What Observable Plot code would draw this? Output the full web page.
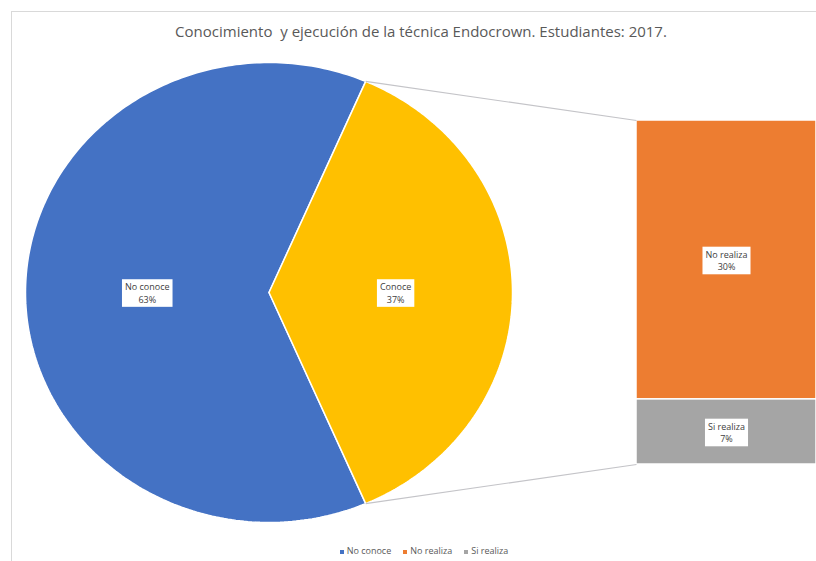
<!DOCTYPE html>
<html>
<head>
<meta charset="utf-8">
<script src="https://cdn.jsdelivr.net/npm/d3@7"></script>
<script src="https://cdn.jsdelivr.net/npm/@observablehq/plot@0.6"></script>
<style>
  html, body { margin: 0; padding: 0; background: #fff; }
  #wrap { position: relative; width: 816px; height: 561px; overflow: hidden; font-family: "Open Sans", "Noto Sans", sans-serif; }
  #frame { position: absolute; left: 11px; top: 11px; width: 820px; height: 560px; border-left: 1px solid #d9d9d9; border-top: 1px solid #d9d9d9; }
  #title { position: absolute; left: 0; top: 21px; width: 842px; text-align: center; font-size: 15px; color: #595959; }
  #chart { position: absolute; left: 0; top: 0; }
  #legend { position: absolute; left: 0; top: 544px; width: 848px; text-align: center; font-size: 9px; color: #595959; white-space: nowrap; }
  #legend span.item { margin: 0 6px; }
  #legend span.sw { display: inline-block; width: 4px; height: 4px; margin-right: 3px; vertical-align: middle; }
</style>
</head>
<body>
<div id="wrap">
  <div id="frame"></div>
  <div id="chart"></div>
  <div id="title"></div>
  <div id="legend"></div>
</div>
<script>
// ---- data ----
const titleText = "Conocimiento  y ejecución de la técnica Endocrown. Estudiantes: 2017.";
const pieCategories = ["No conoce", "Conoce"];
const pieValues = [63, 37];
const barCategories = ["No realiza", "Si realiza"];
const barValues = [30, 7];
const legendLabels = ["No conoce", "No realiza", "Si realiza"];

// ---- styles ----
const pieColors = ["#4472C4", "#FFC000"];
const barColors = ["#ED7D31", "#A5A5A5"];
const legendColors = ["#4472C4", "#ED7D31", "#A5A5A5"];

// ---- layout (pixel geometry of the canvas) ----
const W = 816, H = 561;
const cx = 268.5, cy = 292, rx = 243.5, ry = 230;
const barLeftPx = 636, barRightPx = 816, barTopPx = 120, barBottomPx = 464;

const xDomain = [-cx / rx, (W - cx) / rx];
const yDomain = [(cy - H) / ry, cy / ry];
const barX1 = (barLeftPx - cx) / rx, barX2 = (barRightPx - cx) / rx;
const barH = (barBottomPx - barTopPx) / ry;

// ---- pie geometry ----
const total = d3.sum(pieValues);
const fConoce = pieValues[1] / total;
const a0 = Math.PI * fConoce; // Conoce centered at 3 o'clock
const sliceAngles = [[a0, 2 * Math.PI - a0], [-a0, a0]];
function slicePoints(name, [s, e]) {
  const pts = [{name, x: 0, y: 0}];
  const n = 240;
  for (let i = 0; i <= n; i++) {
    const t = s + (e - s) * i / n;
    pts.push({name, x: Math.cos(t), y: Math.sin(t)});
  }
  pts.push({name, x: 0, y: 0});
  return pts;
}
const slices = pieCategories.map((c, i) => slicePoints(c, sliceAngles[i]));

// ---- bar geometry ----
const barTotal = d3.sum(barValues);
let acc = 0;
const barRows = barCategories.map((c, i) => {
  const top = barH / 2 - acc / barTotal * barH;
  acc += barValues[i];
  const bottom = barH / 2 - acc / barTotal * barH;
  return {name: c, value: barValues[i], y1: bottom, y2: top, color: barColors[i]};
});

// connectors
const links = [
  {x1: Math.cos(a0), y1: Math.sin(a0), x2: barX1, y2: barH / 2},
  {x1: Math.cos(-a0), y1: Math.sin(-a0), x2: barX1, y2: -barH / 2}
];

// labels
const pct = v => Math.round(v / total * 100) + "%";
const labels = [
  ...pieCategories.map((c, i) => {
    const m = (sliceAngles[i][0] + sliceAngles[i][1]) / 2;
    const r = i === 0 ? 0.5 : 0.52;
    return {x: r * Math.cos(m), y: r * Math.sin(m), text: c + "\n" + pct(pieValues[i])};
  }),
  ...barRows.map(b => ({x: (barX1 + barX2) / 2, y: (b.y1 + b.y2) / 2, text: b.name + "\n" + pct(b.value)}))
];

const marks = [
  ...slices.map((pts, i) => Plot.line(pts, {x: "x", y: "y", fill: pieColors[i], stroke: "white", strokeWidth: 1.5, strokeLinejoin: "miter"})),
  Plot.rect(barRows, {x1: barX1, x2: barX2, y1: "y1", y2: "y2", fill: "color", stroke: "white", strokeWidth: 1.5}),
  Plot.link(links, {x1: "x1", y1: "y1", x2: "x2", y2: "y2", stroke: "#c4c4c8", strokeWidth: 1.2}),
  Plot.text(labels, {x: "x", y: "y", text: "text", fontSize: 9, lineHeight: 1.4, fill: "#404040", className: "lbl"})
];

const chart = Plot.plot({
  width: W, height: H,
  margin: 0,
  x: {domain: xDomain, axis: null},
  y: {domain: yDomain, axis: null},
  color: {type: "identity"},
  style: {fontFamily: "'Open Sans', 'Noto Sans', sans-serif", background: "transparent"},
  marks
});
document.getElementById("chart").appendChild(chart);

// white boxes behind data labels
chart.querySelectorAll(".lbl text").forEach(t => {
  const b = t.getBBox();
  const r = document.createElementNS("http://www.w3.org/2000/svg", "rect");
  r.setAttribute("x", b.x - 3); r.setAttribute("y", b.y - 1);
  r.setAttribute("width", b.width + 6); r.setAttribute("height", b.height + 2);
  r.setAttribute("fill", "white");
  if (t.getAttribute("transform")) r.setAttribute("transform", t.getAttribute("transform"));
  t.parentNode.insertBefore(r, t);
});

document.getElementById("title").textContent = titleText;
document.getElementById("title").style.whiteSpace = "pre";
const leg = document.getElementById("legend");
legendLabels.forEach((l, i) => {
  const s = document.createElement("span"); s.className = "item";
  const sw = document.createElement("span"); sw.className = "sw"; sw.style.background = legendColors[i];
  s.appendChild(sw); s.appendChild(document.createTextNode(l));
  leg.appendChild(s);
});
</script>
</body>
</html>
